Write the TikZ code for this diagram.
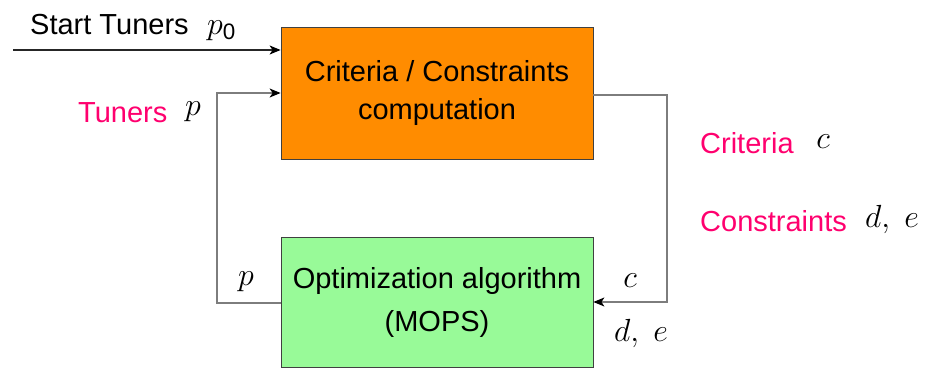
\documentclass[tikz,border=0pt]{standalone}
\usepackage{fix-cm}
\usepackage{fontspec}
\setmainfont{Liberation Sans}
\usetikzlibrary{arrows.meta}
\definecolor{boxorange}{RGB}{255,140,0}
\definecolor{boxgreen}{RGB}{152,250,152}
\definecolor{labelpink}{RGB}{255,0,110}
\definecolor{wiregray}{RGB}{125,125,125}
\tikzset{
  blockbox/.style={draw=black!75, line width=0.8pt, align=center,
    inner sep=0pt},
  lbl/.style={inner sep=0pt, font=\fontsize{29}{34}\selectfont},
  mathlbl/.style={inner sep=0pt, font=\fontsize{32}{36}\selectfont},
  pinklbl/.style={lbl, text=labelpink},
  wire/.style={draw=wiregray, line width=1.1pt},
  feed/.style={wire, -{Stealth[length=11pt,width=9pt,inset=3pt,color=black]}},
}
\begin{document}
\begin{tikzpicture}[x=1pt,y=-1pt]
\useasboundingbox (0,0) rectangle (934,369);
% the two blocks
\node[blockbox, fill=boxorange, minimum width=312pt, minimum height=132pt,
  font=\fontsize{29}{38}\selectfont]
  (calc) at (437,93) {Criteria / Constraints\\computation};
\node[blockbox, fill=boxgreen, minimum width=312pt, minimum height=130pt,
  font=\fontsize{29}{43}\selectfont]
  (opt) at (437,302) {Optimization algorithm\\(MOPS)};
% start input
\coordinate (start) at (13,50);
\draw[feed, draw=black!85, line width=1.2pt] (start) -- (start -| calc.west);
\node[lbl, anchor=base west] (startlbl) at (30,35) {Start Tuners};
\node[mathlbl, anchor=base west] (p0lbl) at (207,35) {$p_{\mathrm{0}}$};
% feedback from optimizer to computation block
\coordinate (lcorner1) at (217,303);
\coordinate (lcorner2) at (217,93);
\draw[feed] (opt.west |- lcorner1) -- (lcorner1) -- (lcorner2) -- (lcorner2 -| calc.west);
\node[pinklbl, anchor=west] (tunlbl) at (78,113) {Tuners};
\node[mathlbl] (plbl) at (193,112) {$p$};
\node[mathlbl] (pout) at (246,282) {$p$};
% criteria / constraints back to optimizer
\coordinate (rcorner1) at (667,95);
\coordinate (rcorner2) at (667,302);
\draw[feed] (calc.east |- rcorner1) -- (rcorner1) -- (rcorner2) -- (rcorner2 -| opt.east);
\node[mathlbl] (cin) at (630,281) {$c$};
\node[mathlbl] (dein) at (641,333) {$d,\ e$};
\node[pinklbl, anchor=west] (critlbl) at (700,143) {Criteria};
\node[mathlbl] (clbl) at (823,142) {$c$};
\node[pinklbl, anchor=west] (conslbl) at (700,221) {Constraints};
\node[mathlbl] (delbl) at (892,219) {$d,\ e$};
\end{tikzpicture}
\end{document}
